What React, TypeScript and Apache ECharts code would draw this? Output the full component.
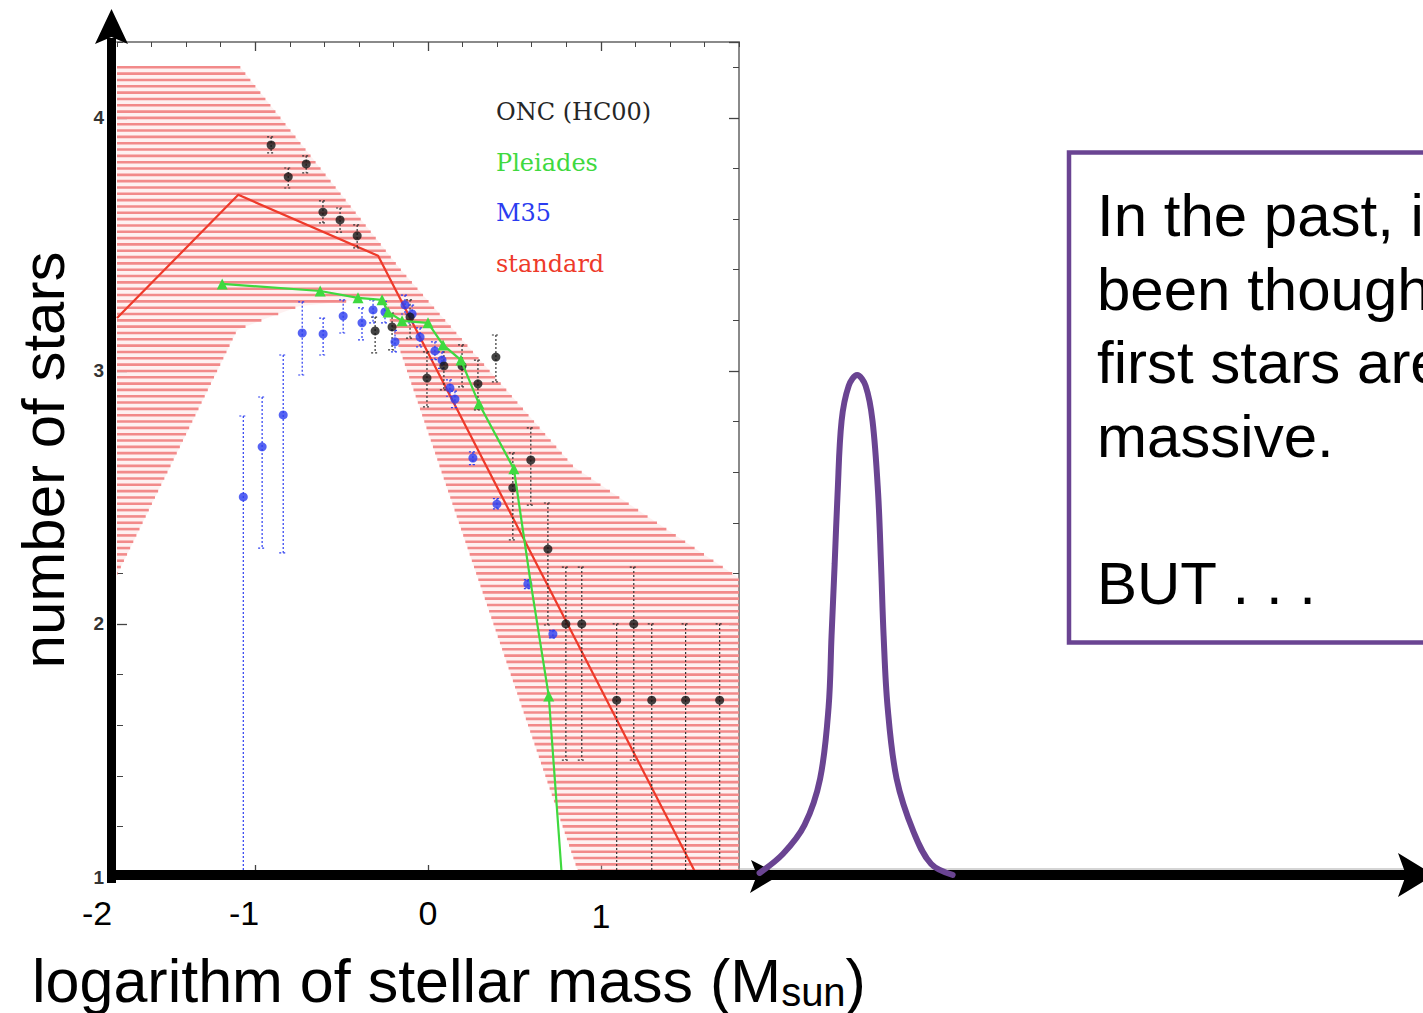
import React, { useEffect, useRef } from "react";
import * as echarts from "echarts";

// ---------------- DATA (x = log10 stellar mass, y = log10 number of stars) ----------------
// ONC (HC00): [x, y, errLow, errHigh]
const oncPoints: number[][] = [
  [-0.908, 3.893, 3.862, 3.925],
  [-0.809, 3.767, 3.723, 3.802],
  [-0.705, 3.818, 3.783, 3.85],
  [-0.608, 3.628, 3.585, 3.672],
  [-0.509, 3.597, 3.549, 3.644],
  [-0.41, 3.534, 3.486, 3.577],
  [-0.306, 3.158, 3.071, 3.213],
  [-0.208, 3.174, 3.083, 3.229],
  [-0.104, 3.213, 3.13, 3.281],
  [-0.006, 2.972, 2.858, 3.075],
  [0.092, 3.02, 2.925, 3.095],
  [0.197, 3.02, 2.937, 3.103],
  [0.289, 2.949, 2.846, 3.043],
  [0.393, 3.055, 2.957, 3.142],
  [0.491, 2.538, 2.332, 2.676],
  [0.595, 2.648, 2.47, 2.775],
  [0.694, 2.296, 1.996, 2.478],
  [0.798, 2.0, 1.462, 2.225],
  [0.89, 2.0, 1.462, 2.225],
  [1.092, 1.699, 0.9, 2.0],
  [1.191, 2.0, 1.462, 2.225],
  [1.295, 1.699, 0.9, 2.0],
  [1.491, 1.699, 0.9, 2.0],
  [1.688, 1.699, 0.9, 2.0],
];

// M35: [x, y, errLow, errHigh]
const m35Points: number[][] = [
  [-1.069, 2.502, 0.9, 2.822],
  [-0.96, 2.7, 2.3, 2.897],
  [-0.838, 2.826, 2.281, 3.063],
  [-0.728, 3.15, 2.984, 3.273],
  [-0.607, 3.146, 3.063, 3.209],
  [-0.491, 3.217, 3.15, 3.281],
  [-0.382, 3.19, 3.123, 3.249],
  [-0.318, 3.241, 3.19, 3.281],
  [-0.249, 3.233, 3.19, 3.275],
  [-0.191, 3.115, 3.075, 3.16],
  [-0.133, 3.261, 3.225, 3.3],
  [-0.092, 3.225, 3.19, 3.26],
  [-0.046, 3.134, 3.095, 3.17],
  [0.04, 3.079, 3.045, 3.115],
  [0.081, 3.043, 3.01, 3.075],
  [0.127, 2.933, 2.9, 2.965],
  [0.156, 2.889, 2.855, 2.92],
  [0.26, 2.656, 2.63, 2.68],
  [0.399, 2.474, 2.455, 2.495],
  [0.578, 2.158, 2.14, 2.175],
  [0.723, 1.96, 1.945, 1.975],
];

// Pleiades
const pleiadesX = [-1.191, -0.624, -0.405, -0.266, -0.231, -0.15, 0.0, 0.087, 0.191, 0.295, 0.497, 0.59, 0.699, 0.775];
const pleiadesY = [3.344, 3.316, 3.289, 3.281, 3.233, 3.198, 3.19, 3.103, 3.043, 2.87, 2.613, 2.182, 1.715, 1.0];
const pleiadesMarked = [true, true, true, true, true, true, true, true, true, true, true, false, true, false];

// standard IMF line
const standardX = [-1.8, -1.098, -0.289, 1.561];
const standardY = [3.209, 3.696, 3.455, 1.0];

// standard IMF uncertainty band (outline)
const bandX = [-1.8, -1.092, -0.156, 0.844, 1.8, 1.8, 0.879, -0.266, -0.74, -0.942, -1.104, -1.8];
const bandY = [4.205, 4.205, 3.399, 2.621, 2.182, 1.0, 1.0, 3.289, 3.257, 3.206, 3.162, 2.194];

// "first stars" mass function sketch
const firstStarsX = [1.919, 2.055, 2.179, 2.269, 2.318, 2.335, 2.353, 2.37, 2.393, 2.434, 2.483, 2.532, 2.572, 2.604, 2.621, 2.636, 2.659, 2.711, 2.809, 2.911, 3.035];
const firstStarsY = [1.016, 1.092, 1.206, 1.389, 1.672, 1.953, 2.237, 2.518, 2.802, 2.941, 2.984, 2.941, 2.802, 2.518, 2.237, 1.953, 1.672, 1.389, 1.178, 1.051, 1.008];

// texts
const legendNames = ["ONC (HC00)", "Pleiades", "M35", "standard"];
const slideTickLabels = ["-2", "-1", "0", "1"];
const majorXTicks = [-1, 0, 1];
const yTitle = "number of stars";
const xTitleMain = "logarithm of stellar mass (M";
const xTitleSub = "sun";
const boxLines = ["In the past, i", "been though", "first stars are", "massive.", "", "BUT . . ."];

// ---------------- STYLE ----------------
const PURPLE = "#6a4492";
const C_ONC = "#141414";
const C_PLE = "#3fd93f";
const C_M35 = "#2b3cf0";
const C_STD = "#ee3a2a";
const SANS = "Liberation Sans, Arial, Helvetica, sans-serif";
const SERIF = "DejaVu Serif, serif";
const HATCH_STEP = 0.025;

function errorBarRenderer(color: string) {
  return (params: any, api: any) => {
    const x = api.value(0);
    const lo = api.value(2);
    const hi = api.value(3);
    const top = api.coord([x, hi]);
    const bot = api.coord([x, lo]);
    const st = { stroke: color, lineWidth: 1.2, lineDash: [2, 2] };
    return {
      type: "group",
      children: [
        { type: "line", shape: { x1: top[0], y1: top[1], x2: bot[0], y2: bot[1] }, style: st },
        { type: "line", shape: { x1: top[0] - 4, y1: top[1], x2: top[0] + 4, y2: top[1] }, style: st },
        { type: "line", shape: { x1: bot[0] - 4, y1: bot[1], x2: bot[0] + 4, y2: bot[1] }, style: st },
      ],
    };
  };
}

function hatchRenderer(params: any, api: any) {
  if (params.dataIndex !== 0) return null;
  const pts = bandX.map((x, i) => api.coord([x, bandY[i]]));
  const children: any[] = [
    { type: "polygon", shape: { points: pts }, style: { fill: "rgba(250,190,190,0.22)" } },
  ];
  for (let k = 1; k < 400; k++) {
    const yv = 1 + k * HATCH_STEP;
    if (yv > 4.21) break;
    const py = api.coord([0, yv])[1];
    const xs: number[] = [];
    for (let i = 0; i < pts.length; i++) {
      const a = pts[i];
      const b = pts[(i + 1) % pts.length];
      if ((a[1] <= py && b[1] > py) || (b[1] <= py && a[1] > py)) {
        xs.push(a[0] + ((py - a[1]) * (b[0] - a[0])) / (b[1] - a[1]));
      }
    }
    xs.sort((p, q) => p - q);
    for (let j = 0; j + 1 < xs.length; j += 2) {
      children.push({
        type: "line",
        shape: { x1: xs[j], y1: py, x2: xs[j + 1], y2: py },
        style: { stroke: "#f28a8a", lineWidth: 2.6 },
      });
    }
  }
  return { type: "group", children };
}

export default function App() {
  const ref = useRef<HTMLDivElement>(null);
  useEffect(() => {
    if (!ref.current) return;
    const chart = echarts.init(ref.current, null, { renderer: "svg" });

    const frameColor = "#8a8a8a";
    const tickColor = "#444";

    const xBase = { gridIndex: 0, type: "value", min: -1.8, max: 1.8, axisLabel: { show: false }, splitLine: { show: false } };
    const yBase = { gridIndex: 0, type: "value", min: 1, max: 4.3, splitLine: { show: false } };

    const option: any = {
      animation: false,
      backgroundColor: "#ffffff",
      grid: [
        { left: 117, top: 42, width: 622, height: 835 },
        { left: 739, top: 42, width: 684, height: 835 },
      ],
      xAxis: [
        { ...xBase, position: "bottom", interval: 0.2, axisLine: { show: false, onZero: false }, axisTick: { inside: true, length: 5, lineStyle: { color: tickColor } } },
        { ...xBase, position: "bottom", axisLine: { show: false, onZero: false }, axisTick: { inside: true, length: 12, customValues: majorXTicks, lineStyle: { color: tickColor, width: 1.3 } } },
        { ...xBase, position: "top", interval: 0.2, axisLine: { show: true, onZero: false, lineStyle: { color: frameColor, width: 2 } }, axisTick: { inside: true, length: 5, lineStyle: { color: tickColor } } },
        { ...xBase, position: "top", axisLine: { show: false, onZero: false }, axisTick: { inside: true, length: 9, customValues: majorXTicks, lineStyle: { color: tickColor, width: 1.3 } } },
        { gridIndex: 1, type: "value", min: 1.8, max: 5.754, show: false, axisLine: { onZero: false } },
      ],
      yAxis: [
        {
          ...yBase, position: "left", interval: 1, axisLine: { show: false, onZero: false },
          axisTick: { inside: true, length: 10, lineStyle: { color: tickColor, width: 1.3 } },
          axisLabel: { show: true, margin: 13, showMaxLabel: false, color: "#333", fontSize: 19, fontWeight: "bold", fontFamily: SANS },
        },
        { ...yBase, position: "left", interval: 0.2, axisLine: { show: false, onZero: false }, axisTick: { inside: true, length: 6, lineStyle: { color: tickColor } }, axisLabel: { show: false } },
        { ...yBase, position: "right", interval: 1, axisLine: { show: true, onZero: false, lineStyle: { color: frameColor, width: 2 } }, axisTick: { inside: true, length: 10, lineStyle: { color: tickColor, width: 1.3 } }, axisLabel: { show: false } },
        { ...yBase, position: "right", interval: 0.2, axisLine: { show: false, onZero: false }, axisTick: { inside: true, length: 6, lineStyle: { color: tickColor } }, axisLabel: { show: false } },
        { gridIndex: 1, type: "value", min: 1, max: 4.3, show: false, axisLine: { onZero: false } },
      ],
      legend: {
        orient: "vertical",
        left: 486,
        top: 94,
        icon: "none",
        itemWidth: 0,
        itemHeight: 26,
        itemGap: 25.7,
        selectedMode: false,
        textStyle: { fontFamily: SERIF, fontSize: 24 },
        data: [
          { name: legendNames[0], textStyle: { color: "#262626" } },
          { name: legendNames[1], textStyle: { color: C_PLE } },
          { name: legendNames[2], textStyle: { color: C_M35 } },
          { name: legendNames[3], textStyle: { color: C_STD } },
        ],
      },
      series: [
        {
          type: "custom",
          name: "standard band",
          xAxisIndex: 0,
          yAxisIndex: 0,
          clip: true,
          z: 1,
          renderItem: hatchRenderer,
          encode: { x: 0, y: 1 },
          data: bandX.map((x, i) => [x, bandY[i]]),
          silent: true,
        },
        {
          type: "line",
          name: legendNames[3],
          xAxisIndex: 0,
          yAxisIndex: 0,
          z: 2,
          showSymbol: false,
          symbol: "none",
          clip: true,
          lineStyle: { color: C_STD, width: 2.2 },
          itemStyle: { color: C_STD },
          data: standardX.map((x, i) => [x, standardY[i]]),
        },
        {
          type: "custom",
          name: "ONC err",
          xAxisIndex: 0,
          yAxisIndex: 0,
          clip: true,
          z: 3,
          renderItem: errorBarRenderer("#333"),
          encode: { x: 0, y: 1 },
          data: oncPoints,
        },
        {
          type: "custom",
          name: "M35 err",
          xAxisIndex: 0,
          yAxisIndex: 0,
          clip: true,
          z: 3,
          renderItem: errorBarRenderer(C_M35),
          encode: { x: 0, y: 1 },
          data: m35Points,
        },
        {
          type: "scatter",
          name: legendNames[2],
          xAxisIndex: 0,
          yAxisIndex: 0,
          z: 4,
          symbol: "circle",
          symbolSize: 9,
          itemStyle: { color: C_M35 },
          data: m35Points.map((p) => [p[0], p[1]]),
        },
        {
          type: "scatter",
          name: legendNames[0],
          xAxisIndex: 0,
          yAxisIndex: 0,
          z: 5,
          symbol: "circle",
          symbolSize: 9,
          itemStyle: { color: C_ONC },
          data: oncPoints.map((p) => [p[0], p[1]]),
        },
        {
          type: "line",
          name: legendNames[1],
          xAxisIndex: 0,
          yAxisIndex: 0,
          z: 6,
          clip: true,
          symbol: "triangle",
          symbolSize: 11,
          lineStyle: { color: C_PLE, width: 2.2 },
          itemStyle: { color: C_PLE },
          data: pleiadesX.map((x, i) => ({ value: [x, pleiadesY[i]], symbol: pleiadesMarked[i] ? "triangle" : "none" })),
        },
        {
          type: "line",
          name: "first stars",
          xAxisIndex: 4,
          yAxisIndex: 4,
          z: 20,
          smooth: 0.35,
          showSymbol: false,
          symbol: "none",
          clip: false,
          lineStyle: { color: PURPLE, width: 6, cap: "round" },
          data: firstStarsX.map((x, i) => [x, firstStarsY[i]]),
        },
      ],
      graphic: [
        // thin gray frame line continuing to the right
        { type: "line", z: 8, shape: { x1: 739, y1: 869, x2: 1423, y2: 869 }, style: { stroke: "#aaaaaa", lineWidth: 1 } },
        // big slide axes
        { type: "rect", z: 10, shape: { x: 107, y: 38, width: 9, height: 845 }, style: { fill: "#000" } },
        { type: "polygon", z: 10, shape: { points: [[111.5, 9], [128, 44], [111.5, 37], [95, 44]] }, style: { fill: "#000" } },
        { type: "rect", z: 10, shape: { x: 107, y: 870, width: 1316, height: 10 }, style: { fill: "#000" } },
        { type: "polygon", z: 10, shape: { points: [[780, 875], [751, 860], [757, 875], [750, 893]] }, style: { fill: "#000" } },
        { type: "polygon", z: 10, shape: { points: [[1434, 875], [1398, 853], [1406, 875], [1398, 897]] }, style: { fill: "#000" } },
        // slide tick labels
        { type: "text", z: 10, x: 97, y: 913, style: { text: slideTickLabels[0], fontSize: 34, fontFamily: SANS, fill: "#000", align: "center", verticalAlign: "middle" } },
        { type: "text", z: 10, x: 244, y: 913, style: { text: slideTickLabels[1], fontSize: 34, fontFamily: SANS, fill: "#000", align: "center", verticalAlign: "middle" } },
        { type: "text", z: 10, x: 428, y: 913, style: { text: slideTickLabels[2], fontSize: 34, fontFamily: SANS, fill: "#000", align: "center", verticalAlign: "middle" } },
        { type: "text", z: 10, x: 601, y: 916, style: { text: slideTickLabels[3], fontSize: 34, fontFamily: SANS, fill: "#000", align: "center", verticalAlign: "middle" } },
        // axis titles
        {
          type: "text", z: 10, x: 43, y: 460, rotation: Math.PI / 2,
          style: { text: yTitle, fontSize: 60, fontFamily: SANS, fill: "#000", align: "center", verticalAlign: "middle" },
        },
        {
          type: "text", z: 10, x: 32, y: 949,
          style: {
            text: `{m|${xTitleMain}}{s|${xTitleSub}}{m|)}`,
            align: "left",
            verticalAlign: "top",
            rich: {
              m: { fontSize: 61, fontFamily: SANS, fill: "#000", lineHeight: 63, verticalAlign: "middle" },
              s: { fontSize: 40, fontFamily: SANS, fill: "#000", lineHeight: 38, verticalAlign: "bottom" },
            },
          },
        },
        // text box
        { type: "rect", z: 10, shape: { x: 1069, y: 152.5, width: 420, height: 490 }, style: { fill: "none", stroke: PURPLE, lineWidth: 4.5 } },
        {
          type: "text", z: 11, x: 1097, y: 179,
          style: { text: boxLines.join("\n"), fontSize: 60, lineHeight: 73.5, fontFamily: SANS, fill: "#000", align: "left", verticalAlign: "top" },
        },
      ],
    };

    chart.setOption(option);
    return () => chart.dispose();
  }, []);

  return <div ref={ref} style={{ position: "absolute", left: 0, top: 0, width: 1423, height: 1013, background: "#fff" }} />;
}
